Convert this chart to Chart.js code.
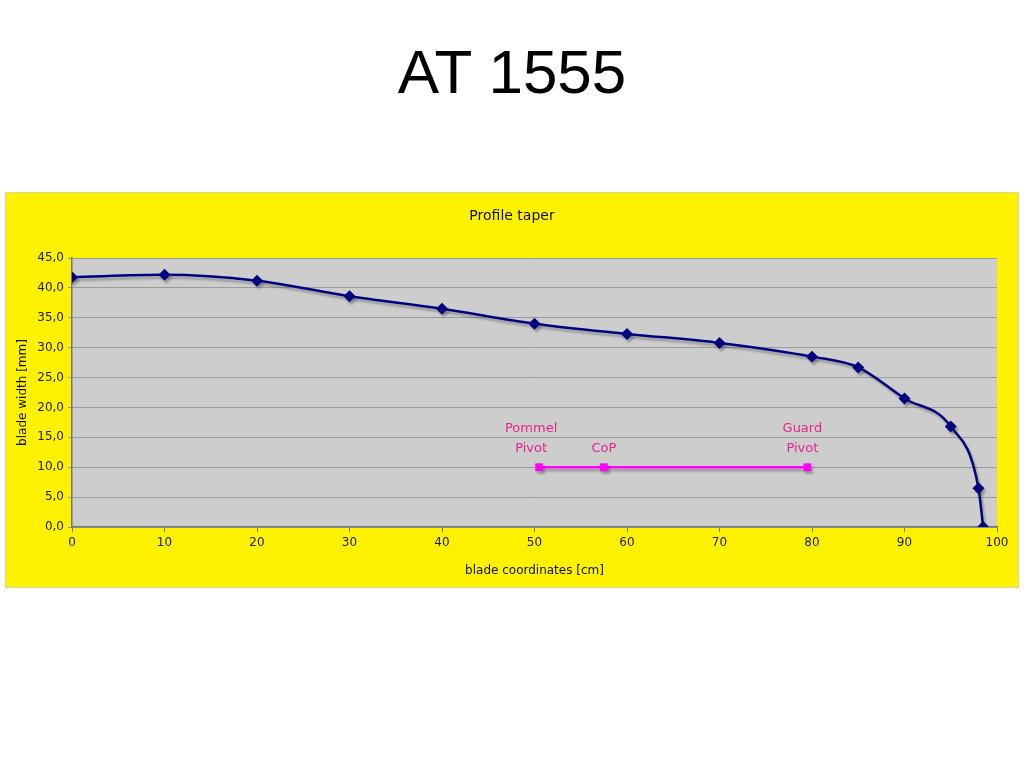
<!DOCTYPE html>
<html>
<head>
<meta charset="utf-8">
<script src="https://cdn.jsdelivr.net/npm/chart.js@4"></script>
<style>
  body { margin: 0; width: 1024px; height: 768px; background: #fff; position: relative; overflow: hidden; }
  #title { position: absolute; left: 0; width: 1024px; top: 36px; text-align: center;
           font-family: "Liberation Sans", Arial, sans-serif; font-size: 62px; color: #000; }
  #frame { position: absolute; left: 5px; top: 192px; width: 1012px; height: 394px;
           background: #FFF200; border: 1px solid #D9D6A0; }
</style>
</head>
<body>
<div id="title">AT 1555</div>
<div id="frame"><canvas id="graph" width="1012" height="394"></canvas></div>
<script>
// blade profile (cm, mm)
const bladeX = [0, 10, 20, 30, 40, 50, 60, 70, 80, 85, 90, 95, 98, 98.5];
const bladeWidth = [41.8, 42.2, 41.2, 38.6, 36.5, 34.0, 32.3, 30.8, 28.5, 26.7, 21.5, 16.8, 6.5, 0.0];

// balance points
const pivotX = [50.5, 57.5, 79.5];
const pivotY = [10, 10, 10];
const pivotLabels = [["Pommel", "Pivot"], ["CoP"], ["Guard", "Pivot"]];

const FONT = "'DejaVu Sans', sans-serif";

// -------------------------
// PLUGINS
// -------------------------
const plotBg = {
  id: "plotBg",
  beforeDraw(c) {
    const a = c.chartArea, ctx = c.ctx;
    ctx.save();
    ctx.fillStyle = "#CDCDCD";
    ctx.fillRect(a.left, a.top, a.right - a.left, a.bottom - a.top);
    ctx.restore();
  },
  beforeDatasetsDraw(c) {
    const ctx = c.ctx;
    ctx.save();
    ctx.shadowColor = "rgba(60,60,60,0.35)";
    ctx.shadowOffsetX = 2;
    ctx.shadowOffsetY = 3;
    ctx.shadowBlur = 2;
  },
  afterDatasetsDraw(c) {
    c.ctx.restore();
  }
};

const texts = {
  id: "texts",
  afterDraw(c) {
    const ctx = c.ctx;
    ctx.save();
    ctx.fillStyle = "#111";
    ctx.font = "14px " + FONT;
    ctx.textAlign = "center";
    ctx.textBaseline = "middle";
    ctx.fillText("Profile taper", c.width / 2, 23);

    ctx.fillStyle = "#E3268C";
    ctx.font = "13px " + FONT;
    const xs = c.scales.x, ys = c.scales.y;
    pivotX.forEach((v, i) => {
      const px = xs.getPixelForValue(v);
      const py = ys.getPixelForValue(pivotY[i]);
      const lines = pivotLabels[i];
      const shift = i === 0 ? -8 : (i === 2 ? -5 : 0);
      lines.forEach((t, j) => {
        const off = (lines.length - j) * 20 - 1;
        ctx.fillText(t, px + shift, py - off);
      });
    });
    ctx.restore();
  }
};

// -------------------------
// INIT CHART
// -------------------------
function initChart() {
  const ctx = document.getElementById("graph").getContext("2d");

  new Chart(ctx, {
    type: "scatter",
    data: {
      datasets: [{
        label: "blade",
        data: bladeX.map((x, i) => ({ x: x, y: bladeWidth[i] })),
        showLine: true,
        borderColor: "#000080",
        backgroundColor: "#000080",
        borderWidth: 2.5,
        tension: 0.4,
        cubicInterpolationMode: "monotone",
        pointStyle: "rectRot",
        pointRadius: 6,
        pointBorderWidth: 0
      }, {
        label: "pivots",
        data: pivotX.map((x, i) => ({ x: x, y: pivotY[i] })),
        showLine: true,
        borderColor: "#FF00FF",
        backgroundColor: "#FF00FF",
        borderWidth: 2.5,
        pointStyle: "rect",
        pointRadius: 5.5,
        pointBorderWidth: 0
      }]
    },
    options: {
      responsive: false,
      animation: false,
      layout: { padding: { top: 65, right: 21, left: 10, bottom: 9 } },
      plugins: { legend: { display: false }, tooltip: { enabled: false } },
      scales: {
        x: {
          type: "linear",
          min: 0, max: 100,
          afterFit: s => { s.height = 51; },
          ticks: { stepSize: 10, color: "#222", font: { family: FONT, size: 12 }, padding: 4 },
          grid: { drawOnChartArea: false, drawTicks: true, tickLength: 5, color: "#777" },
          border: { color: "#777", width: 1.5 },
          title: { display: true, text: "blade coordinates [cm]", color: "#111",
                   font: { family: FONT, size: 12 }, padding: { top: 2, bottom: 0 } }
        },
        y: {
          min: 0, max: 45,
          afterFit: s => { s.width = 56; },
          ticks: { stepSize: 5, color: "#222", font: { family: FONT, size: 12 }, padding: 4,
                   callback: v => v.toFixed(1).replace(".", ",") },
          grid: { color: "#9A9A9A", drawTicks: true, tickLength: 4 },
          border: { color: "#777", width: 1.5 },
          title: { display: true, text: "blade width [mm]", color: "#111",
                   font: { family: FONT, size: 12 }, padding: { bottom: 0, top: 0 } }
        }
      }
    },
    plugins: [plotBg, texts]
  });
}

initChart();
</script>
</body>
</html>
